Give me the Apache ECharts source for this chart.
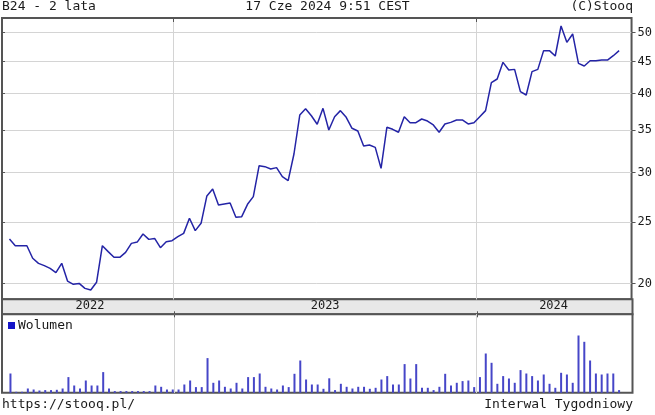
<!DOCTYPE html>
<html><head><meta charset="utf-8">
<script src="https://cdn.jsdelivr.net/npm/echarts@6/dist/echarts.min.js"></script>
<style>html,body{margin:0;padding:0;background:#fff}#c{width:655px;height:415px}</style>
</head><body><div id="c"></div>
<script>
// Weekly dates (x categories)
const weekDates = [
'2022-06-17','2022-06-24','2022-07-01','2022-07-08','2022-07-15','2022-07-22','2022-07-29','2022-08-05','2022-08-12','2022-08-19',
'2022-08-26','2022-09-02','2022-09-09','2022-09-16','2022-09-23','2022-09-30','2022-10-07','2022-10-14','2022-10-21','2022-10-28',
'2022-11-04','2022-11-11','2022-11-18','2022-11-25','2022-12-02','2022-12-09','2022-12-16','2022-12-23','2022-12-30','2023-01-06',
'2023-01-13','2023-01-20','2023-01-27','2023-02-03','2023-02-10','2023-02-17','2023-02-24','2023-03-03','2023-03-10','2023-03-17',
'2023-03-24','2023-03-31','2023-04-07','2023-04-14','2023-04-21','2023-04-28','2023-05-05','2023-05-12','2023-05-19','2023-05-26',
'2023-06-02','2023-06-09','2023-06-16','2023-06-23','2023-06-30','2023-07-07','2023-07-14','2023-07-21','2023-07-28','2023-08-04',
'2023-08-11','2023-08-18','2023-08-25','2023-09-01','2023-09-08','2023-09-15','2023-09-22','2023-09-29','2023-10-06','2023-10-13',
'2023-10-20','2023-10-27','2023-11-03','2023-11-10','2023-11-17','2023-11-24','2023-12-01','2023-12-08','2023-12-15','2023-12-22',
'2023-12-29','2024-01-05','2024-01-12','2024-01-19','2024-01-26','2024-02-02','2024-02-09','2024-02-16','2024-02-23','2024-03-01',
'2024-03-08','2024-03-15','2024-03-22','2024-03-29','2024-04-05','2024-04-12','2024-04-19','2024-04-26','2024-05-03','2024-05-10',
'2024-05-17','2024-05-24','2024-05-31','2024-06-07','2024-06-14','2024-06-21'
];
// Closing prices (PLN)
const closePrices = [
23.52,22.95,22.95,22.95,21.92,21.52,21.34,21.13,20.80,21.52,
20.17,19.93,20.00,19.64,19.52,20.08,22.95,22.46,22.00,22.00,
22.40,23.15,23.26,23.96,23.49,23.57,22.79,23.29,23.38,23.72,
24.01,25.37,24.25,24.91,27.53,28.24,26.63,26.73,26.83,25.46,
25.52,26.70,27.46,30.75,30.64,30.38,30.53,29.54,29.11,32.09,
37.00,37.87,36.90,35.77,37.92,35.03,36.78,37.60,36.69,35.25,
34.91,33.05,33.17,32.88,30.45,35.38,35.12,34.74,36.78,35.98,
35.98,36.47,36.20,35.68,34.74,35.81,36.02,36.34,36.34,35.81,
35.98,36.78,37.60,41.65,42.21,44.86,43.62,43.72,40.30,39.81,
43.36,43.72,46.82,46.82,45.91,51.23,48.26,49.76,44.70,44.27,
45.13,45.13,45.24,45.24,45.96,46.82
];
// Weekly volume (relative units)
const volumes = [
19.3,1.0,1.0,4.3,3.3,2.3,2.7,2.7,3.0,4.3,
15.7,7.3,4.3,12.3,7.3,7.3,20.7,4.3,1.7,1.7,
1.7,1.7,1.7,1.7,1.7,7.3,6.0,3.3,3.3,3.3,
8.3,12.3,5.7,5.7,34.7,10.0,12.3,6.0,4.3,10.0,
4.3,15.7,15.7,19.3,6.0,4.3,3.3,7.3,5.7,19.0,
32.3,13.3,8.3,8.3,4.0,14.5,2.7,9.0,6.0,4.3,
6.0,6.0,4.0,5.0,13.3,16.7,8.3,8.3,28.7,14.3,
28.7,5.0,5.0,2.7,6.0,19.0,7.3,10.0,11.7,12.3,
5.7,15.7,39.3,30.0,9.0,16.7,14.3,10.0,22.7,19.3,
16.7,12.3,18.3,9.0,5.0,20.0,18.3,10.0,57.3,51.0,
32.3,19.3,18.3,19.3,19.3,2.7
];
const priceTicks = [20,25,30,35,40,45,50];
const yearBoundaries = ['2023-01-01','2024-01-01'];
const yearLabelDates = ['2022-09-22','2023-07-02','2024-04-02'];
const headerLeft = 'B24 - 2 lata';
const headerCenter = '17 Cze 2024 9:51 CEST';
const headerRight = '(C)Stooq';
const footerLeft = 'https://stooq.pl/';
const footerRight = 'Interwal Tygodniowy';

const FONT = 'DejaVu Sans Mono';
const xMin = '2022-06-08';
const xMax = '2024-07-06';
const frame = '#555555';
const gridC = '#d4d4d4';

const ts = (s) => +echarts.time.parse(s);
const priceData = weekDates.map((d, i) => [d, closePrices[i]]);
const volData = weekDates.map((d, i) => [d, volumes[i]]);

const chart = echarts.init(document.getElementById('c'), null, {renderer: 'canvas'});
const txt = {fontFamily: FONT, fontSize: 13, fontWeight: 'normal', color: '#1a1a1a'};
chart.setOption({
  animation: false,
  backgroundColor: '#ffffff',
  title: [
    {text: headerLeft, left: 2, top: 0, padding: 0, textStyle: txt},
    {text: headerCenter, left: 'center', top: 0, padding: 0, textStyle: txt},
    {text: headerRight, right: 22, top: 0, padding: 0, textStyle: txt},
    {text: footerLeft, left: 2, top: 398, padding: 0, textStyle: txt},
    {text: footerRight, right: 22, top: 398, padding: 0, textStyle: txt}
  ],
  legend: {
    data: [{name: 'Wolumen', itemStyle: {color: '#1414c8'}}],
    left: 8, top: 319, padding: 0,
    icon: 'rect', itemWidth: 7, itemHeight: 7,
    textStyle: {fontFamily: FONT, fontSize: 13, color: '#1a1a1a', padding: [0,0,0,-2]},
    selectedMode: false
  },
  grid: [
    {left: 2, top: 18, width: 630.5, height: 281.3, show: true, borderColor: frame, borderWidth: 2, backgroundColor: '#fff'},
    {left: 2, top: 299.3, width: 630.5, height: 15, show: true, borderColor: frame, borderWidth: 2, backgroundColor: '#e8e8e8'},
    {left: 2, top: 314.3, width: 630.5, height: 78.5, show: true, borderColor: frame, borderWidth: 2, backgroundColor: '#fff'}
  ],
  xAxis: [
    {type: 'time', gridIndex: 0, position: 'top', min: xMin, max: xMax,
     axisLine: {show: false}, axisLabel: {show: false},
     axisTick: {show: true, inside: true, length: 4, lineStyle: {color: frame}, customValues: yearBoundaries},
     splitLine: {show: true, lineStyle: {color: gridC, width: 1}}},
    {type: 'value', gridIndex: 1, position: 'top', min: ts(xMin), max: ts(xMax),
     axisLine: {show: false},
     axisTick: {show: true, inside: false, length: 3, lineStyle: {color: frame}, customValues: yearBoundaries.map(ts)},
     axisLabel: {show: true, inside: true, margin: 1, fontFamily: FONT, fontSize: 12, color: '#1a1a1a',
                 customValues: yearLabelDates.map(ts), formatter: (v) => String(new Date(v).getFullYear())},
     splitLine: {show: false}},
    {type: 'value', gridIndex: 1, position: 'bottom', min: ts(xMin), max: ts(xMax),
     axisLine: {show: false}, axisLabel: {show: false},
     axisTick: {show: true, inside: false, length: 3, lineStyle: {color: frame}, customValues: yearBoundaries.map(ts)},
     splitLine: {show: false}},
    {type: 'time', gridIndex: 2, position: 'bottom', min: xMin, max: xMax,
     axisLine: {show: false}, axisLabel: {show: false},
     axisTick: {show: false, customValues: yearBoundaries},
     splitLine: {show: true, lineStyle: {color: gridC, width: 1}}}
  ],
  yAxis: [
    {type: 'log', gridIndex: 0, position: 'right', min: 18.87, max: 52.75, logBase: 10,
     axisLine: {show: false},
     axisTick: {show: true, inside: false, length: 4, lineStyle: {color: frame}, customValues: priceTicks},
     axisLabel: {show: true, margin: 6, fontFamily: FONT, fontSize: 12, color: '#1a1a1a', customValues: priceTicks},
     splitLine: {show: true, lineStyle: {color: gridC, width: 1}}},
    {type: 'log', gridIndex: 0, position: 'left', min: 18.87, max: 52.75, logBase: 10,
     axisLine: {show: false}, axisLabel: {show: false},
     axisTick: {show: true, inside: true, length: 3, lineStyle: {color: frame}, customValues: priceTicks},
     splitLine: {show: false}},
    {type: 'value', gridIndex: 2, min: 0, max: 78.5,
     axisLine: {show: false}, axisLabel: {show: false}, axisTick: {show: false}, splitLine: {show: false}},
    {type: 'value', gridIndex: 1, min: 0, max: 1,
     axisLine: {show: false}, axisLabel: {show: false}, axisTick: {show: false}, splitLine: {show: false}}
  ],
  series: [
    {name: 'B24', type: 'line', xAxisIndex: 0, yAxisIndex: 0, data: priceData,
     showSymbol: false, symbol: 'none', lineStyle: {color: '#2424a6', width: 1.5}, itemStyle: {color: '#2424a6'}},
    {name: 'Wolumen', type: 'bar', xAxisIndex: 3, yAxisIndex: 2, data: volData,
     barWidth: 2, itemStyle: {color: '#4646c8'}}
  ]
});
</script>
</body></html>
